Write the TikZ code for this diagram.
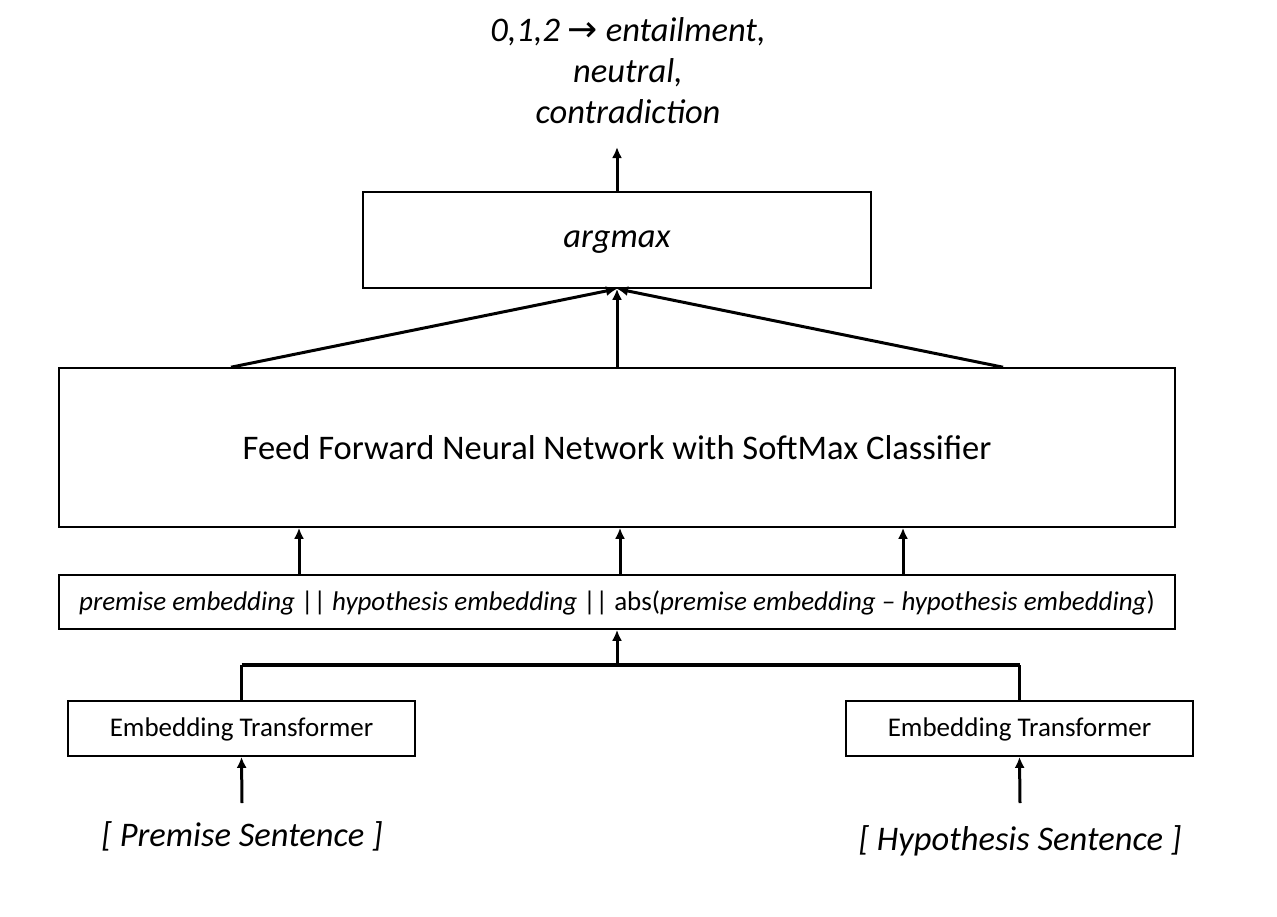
\documentclass[tikz,border=0pt]{standalone}
\usepackage{fontspec}
\setmainfont{Carlito}
\usetikzlibrary{arrows.meta}
\begin{document}
\begin{tikzpicture}[x=1pt,y=-1pt,
  box/.style={draw,line width=1.6pt,inner sep=0pt},
  arr/.style={line width=3pt,-{Latex[length=11pt,width=10pt]}},
  big/.style={font=\fontsize{34.5}{41}\selectfont},
  bigit/.style={font=\fontsize{34.5}{41}\selectfont\itshape},
  mid/.style={font=\fontsize{27}{32}\selectfont}]
\useasboundingbox (0,0) rectangle (1277,916);
\node[bigit,align=center] (out) at (628,71) {0,1,2 {\fontspec{DejaVu Sans}\fontsize{36}{41}\selectfont\upshape →} entailment,\\neutral,\\contradiction};
\coordinate (outpt) at (617,147);
\node[box,minimum width=508pt,minimum height=96pt] (argmax) at (617,240) {};
\node[bigit] at (617,242) {argmax};
\node[box,minimum width=1116pt,minimum height=159pt] (ff) at (617,447.5) {};
\node[big] at (ff) {Feed Forward Neural Network with SoftMax Classifier};
\node[box,minimum width=1116pt,minimum height=54pt] (cat) at (617,602) {};
\node[mid] at (617,603) {\textit{premise embedding} || \textit{hypothesis embedding} || abs(\textit{premise embedding – hypothesis embedding})};
\node[box,minimum width=347pt,minimum height=55pt] (etl) at (241.5,728.5) {};
\node[mid] at (241.5,729) {Embedding Transformer};
\node[box,minimum width=347pt,minimum height=55pt] (etr) at (1019.5,728.5) {};
\node[mid] at (1019.5,729) {Embedding Transformer};
\node[bigit] (ps) at (242,836) {[ Premise Sentence ]};
\node[bigit] (hs) at (1020,841) {[ Hypothesis Sentence ]};
\coordinate (psa) at (242,803);
\coordinate (hsa) at (1020,803);
\coordinate (j) at (617,665);
% arrows
\draw[arr] (argmax.north) -- (outpt);
\draw[arr] (ff.north -| 231,0) -- (argmax.south);
\draw[arr] (ff.north) -- (argmax.south);
\draw[arr] (ff.north -| 1003,0) -- (argmax.south);
\draw[arr] (cat.north -| 299,0) -- (ff.south -| 299,0);
\draw[arr] (cat.north -| 620,0) -- (ff.south -| 620,0);
\draw[arr] (cat.north -| 903,0) -- (ff.south -| 903,0);
\draw[line width=3pt] (etl.north) -- (etl.north |- j);
\draw[line width=3pt] (etr.north) -- (etr.north |- j);
\draw[line width=4pt] (etl.north |- j) -- (etr.north |- j);
\draw[arr] (j) -- (cat.south);
\draw[arr] (psa) -- (etl.south);
\draw[arr] (hsa) -- (etr.south);
\end{tikzpicture}
\end{document}
